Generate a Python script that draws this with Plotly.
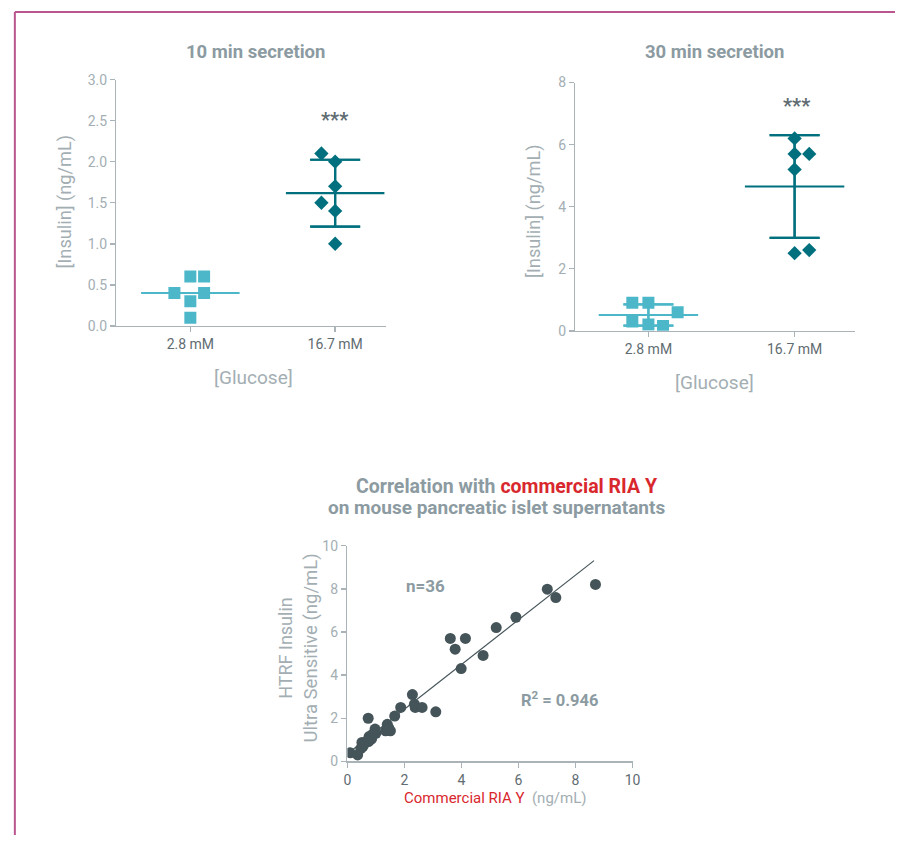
import plotly.graph_objects as go
import numpy as np

# ---------------- data ----------------
categories = ["2.8 mM", "16.7 mM"]

ins10_low = [0.4, 0.6, 0.3, 0.1, 0.6, 0.4]
ins10_high = [2.1, 2.0, 1.7, 1.5, 1.4, 1.0]
ins30_low = [0.9, 0.9, 0.3, 0.2, 0.15, 0.6]
ins30_high = [6.2, 5.7, 5.7, 5.2, 2.5, 2.6]

ria_x = [8.70, 7.01, 7.31, 5.91, 5.22, 3.61, 4.14, 3.78, 4.76, 3.99, 2.28, 1.87,
         2.35, 2.38, 2.62, 3.10, 1.66, 0.73, 1.40, 1.34, 1.51, 0.97, 1.00, 0.88,
         0.76, 0.74, 0.80, 0.51, 0.47, 0.36, 0.10, 0.55, 0.62, 0.85, 1.45, 0.70]
htrf_y = [8.20, 7.98, 7.59, 6.68, 6.20, 5.70, 5.70, 5.20, 4.91, 4.30, 3.10, 2.50,
          2.65, 2.50, 2.50, 2.30, 2.10, 2.00, 1.72, 1.42, 1.42, 1.50, 1.30, 1.25,
          1.15, 0.92, 1.00, 0.88, 0.59, 0.30, 0.40, 0.70, 0.85, 1.05, 1.55, 0.95]
fit_slope = 1.035
fit_intercept = 0.35
fit_x_range = [0.15, 8.65]

# ---------------- layout helpers (positions / styles) ----------------
W, H = 903, 843
def px(x):
    return x / W
def py(y):
    return 1 - y / H

# point jitter offsets (category units), layout only
jit10_low = [-0.11, 0.0, 0.0, 0.0, 0.095, 0.095]
jit10_high = [-0.095, 0.0, 0.0, -0.095, 0.0, 0.0]
jit30_low = [-0.11, 0.0, -0.11, 0.0, 0.10, 0.20]
jit30_high = [0.0, 0.0, 0.10, 0.0, 0.0, 0.10]

FONT = "Roboto, Arial, sans-serif"
LIGHT = "#4cb7c8"
DARK = "#00707e"
AXIS = "#aab4b8"
TICKLBL = "#a3aeb3"
XLBL = "#5f6c71"
TITLE = "#8c9ba1"
DOT = "#455459"
RED = "#d9272e"

fig = go.Figure()

def add_group(xa, ya, center, vals, jit, color, symbol, msize, show_err):
    m = float(np.mean(vals))
    sd = float(np.std(vals, ddof=1))
    if show_err:
        fig.add_trace(go.Scatter(x=[center, center], y=[m, m], xaxis=xa, yaxis=ya,
                                 mode="markers", marker=dict(size=1, color="rgba(0,0,0,0)"),
                                 error_y=dict(type="data", array=[sd, sd], color=color,
                                              thickness=2.2, width=25),
                                 showlegend=False, hoverinfo="skip"))
    fig.add_trace(go.Scatter(x=[center - 0.34, center + 0.34], y=[m, m], xaxis=xa, yaxis=ya,
                             mode="lines", line=dict(color=color, width=2.2),
                             showlegend=False, hoverinfo="skip"))
    fig.add_trace(go.Scatter(x=[center + j for j in jit], y=vals, xaxis=xa, yaxis=ya,
                             mode="markers",
                             marker=dict(symbol=symbol, size=msize, color=color, line=dict(width=0)),
                             showlegend=False))

add_group("x", "y", 0, ins10_low, jit10_low, LIGHT, "square", 12, False)
add_group("x", "y", 1, ins10_high, jit10_high, DARK, "diamond", 11, True)
add_group("x2", "y2", 0, ins30_low, jit30_low, LIGHT, "square", 12, True)
add_group("x2", "y2", 1, ins30_high, jit30_high, DARK, "diamond", 11, True)

# correlation scatter
fig.add_trace(go.Scatter(x=fit_x_range, y=[fit_intercept + fit_slope * v for v in fit_x_range],
                         xaxis="x3", yaxis="y3", mode="lines",
                         line=dict(color=DOT, width=1.2), showlegend=False, hoverinfo="skip"))
fig.add_trace(go.Scatter(x=ria_x, y=htrf_y, xaxis="x3", yaxis="y3", mode="markers",
                         marker=dict(size=11, color=DOT, line=dict(width=0)), showlegend=False))

common_x = dict(showgrid=False, zeroline=False, showline=True, linecolor=AXIS, linewidth=1.5,
                ticks="outside", ticklen=5, tickcolor=AXIS, tickwidth=1.5,
                tickfont=dict(family=FONT, size=14, color=XLBL))
common_y = dict(showgrid=False, zeroline=False, showline=True, linecolor=AXIS, linewidth=1.5,
                ticks="outside", ticklen=5, tickcolor=AXIS, tickwidth=1.5,
                tickfont=dict(family=FONT, size=14, color=TICKLBL))

fig.update_layout(
    width=W, height=H, margin=dict(l=0, r=0, t=0, b=0),
    paper_bgcolor="white", plot_bgcolor="white",
    font=dict(family=FONT), hovermode=False,
    xaxis=dict(domain=[px(114), px(387)], range=[-0.51, 1.35], anchor="y",
               tickvals=[0, 1], ticktext=categories, **common_x),
    yaxis=dict(domain=[py(324), py(73)], range=[0, 3.0], anchor="x",
               tickvals=[0, 0.5, 1.0, 1.5, 2.0, 2.5, 3.0],
               ticktext=["0.0", "0.5", "1.0", "1.5", "2.0", "2.5", "3.0"], **common_y),
    xaxis2=dict(domain=[px(579), px(862)], range=[-0.5, 1.41], anchor="y2",
                tickvals=[0, 1], ticktext=categories, **common_x),
    yaxis2=dict(domain=[py(329), py(76)], range=[0, 8], anchor="x2",
                tickvals=[0, 2, 4, 6, 8], **common_y),
    xaxis3=dict(domain=[px(348), px(637)], range=[0, 10], anchor="y3",
                tickvals=[0, 2, 4, 6, 8, 10], **common_x),
    yaxis3=dict(domain=[py(768), py(548)], range=[0, 10], anchor="x3",
                tickvals=[0, 2, 4, 6, 8, 10], **common_y),
)

def ann(text, x, y, size, color, bold=False, angle=0):
    t = f"<b>{text}</b>" if bold else text
    fig.add_annotation(text=t, x=px(x), y=py(y), xref="paper", yref="paper",
                       showarrow=False, xanchor="center", yanchor="middle",
                       textangle=angle, font=dict(family=FONT, size=size, color=color))

ann("10 min secretion", 255, 45, 18.5, TITLE, bold=True)
ann("30 min secretion", 720, 45, 18.5, TITLE, bold=True)
ann("***", 335, 114, 20, XLBL, bold=True)
ann("***", 803, 100, 20, XLBL, bold=True)
ann("[Insulin] (ng/mL)", 62, 197, 18.2, TICKLBL, angle=-90)
ann("[Insulin] (ng/mL)", 537, 207, 18.2, TICKLBL, angle=-90)
ann("[Glucose]", 253, 377, 19, TICKLBL)
ann("[Glucose]", 720, 382, 19, TICKLBL)

ann(f"Correlation with <span style='color:{RED}'>commercial RIA Y</span>", 510, 488, 19.5, TITLE, bold=True)
ann("on mouse pancreatic islet supernatants", 499, 509, 19, TITLE, bold=True)
ann("n=36", 427, 589, 17, TITLE, bold=True)
ann("R<sup>2</sup> = 0.946", 563, 704, 16.5, TITLE, bold=True)
ann("HTRF Insulin", 285, 652, 18, TICKLBL, angle=-90)
ann("Ultra Sensitive (ng/mL)", 311, 652, 18.5, TICKLBL, angle=-90)
ann(f"<span style='color:{RED}'>Commercial RIA Y</span>  (ng/mL)", 498, 805, 15, TICKLBL)

# frame lines
fig.add_shape(type="line", xref="paper", yref="paper", x0=px(11), x1=1, y0=py(4), y1=py(4),
              line=dict(color="#b9558f", width=2))
fig.add_shape(type="line", xref="paper", yref="paper", x0=px(11), x1=px(11), y0=py(4), y1=0,
              line=dict(color="#b9558f", width=2))

page_fix = (
    "var d=document.documentElement,b=document.body;"
    "[d,b].forEach(function(e){e.style.margin='0';e.style.padding='0';"
    "e.style.overflow='hidden';e.style.width='903px';e.style.height='843px';});"
)

fig.write_html("out.html",
               config={"displayModeBar": False, "staticPlot": True},
               post_script=page_fix)
